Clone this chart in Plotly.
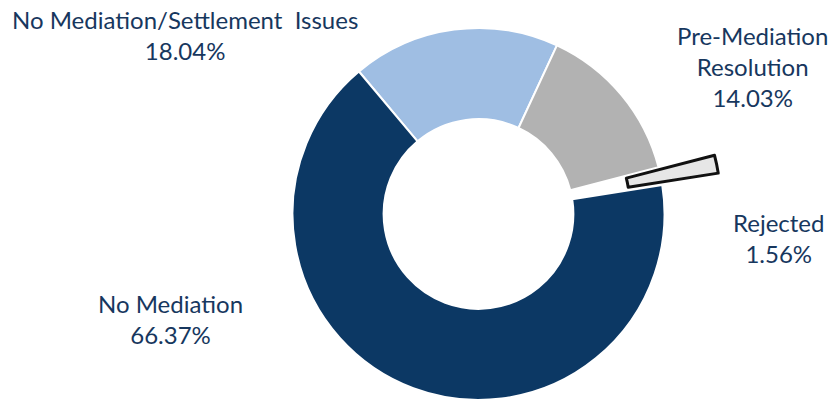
import plotly.graph_objects as go

labels = ["No Mediation/Settlement Issues", "Pre-Mediation Resolution", "Rejected", "No Mediation"]
label_text = ["No Mediation/Settlement  Issues", "Pre-Mediation<br>Resolution", "Rejected", "No Mediation"]
values = [18.04, 14.03, 1.56, 66.37]
colors = ["#9fbee3", "#b2b2b2", "#e6e6e6", "#0c3864"]
pulled = "Rejected"

W, H = 834, 402
TEXT_COLOR = "#17375e"
FONT = "Lato"

# main ring (pulled slice left empty)
main_colors = [c if l != pulled else "rgba(0,0,0,0)" for l, c in zip(labels, colors)]
main_line_w = [2 if l != pulled else 0 for l in labels]

dom_x = [292 / W, 665 / W]
dom_y = [2 / H, 374 / H]

fig = go.Figure()
fig.add_trace(go.Pie(
    labels=labels, values=values, sort=False, direction="clockwise", rotation=-40,
    hole=0.51, textinfo="none", hoverinfo="label+percent",
    marker=dict(colors=main_colors, line=dict(color="white", width=main_line_w)),
    domain=dict(x=dom_x, y=dom_y), showlegend=False,
))

# exploded slice, drawn as the same pie shifted outward along the slice's direction
off_x, off_y = 56 / W, 12 / H
ex_colors = [c if l == pulled else "rgba(0,0,0,0)" for l, c in zip(labels, colors)]
ex_line_w = [3 if l == pulled else 0 for l in labels]
fig.add_trace(go.Pie(
    labels=labels, values=values, sort=False, direction="clockwise", rotation=-40,
    hole=0.51, textinfo="none", hoverinfo="label+percent",
    marker=dict(colors=ex_colors, line=dict(color="#111111", width=ex_line_w)),
    domain=dict(x=[dom_x[0] + off_x, dom_x[1] + off_x], y=[dom_y[0] + off_y, dom_y[1] + off_y]),
    showlegend=False,
))

# label positions (pixel centres)
label_pos = [(185, 35), (752, 66), (778, 238), (170, 319)]
for txt, v, (px, py) in zip(label_text, values, label_pos):
    fig.add_annotation(
        x=px / W, y=1 - py / H, xref="paper", yref="paper",
        text=f"{txt}<br>{v:.2f}%", showarrow=False,
        xanchor="center", yanchor="middle", align="center",
        font=dict(family=FONT, size=24, color=TEXT_COLOR),
    )

fig.update_layout(
    width=W, height=H, margin=dict(l=0, r=0, t=0, b=0),
    paper_bgcolor="white", plot_bgcolor="white",
)
fig.write_html(
    "out.html",
    config={"displayModeBar": False},
    post_script="document.body.style.margin='0';document.body.style.overflow='hidden';",
)
